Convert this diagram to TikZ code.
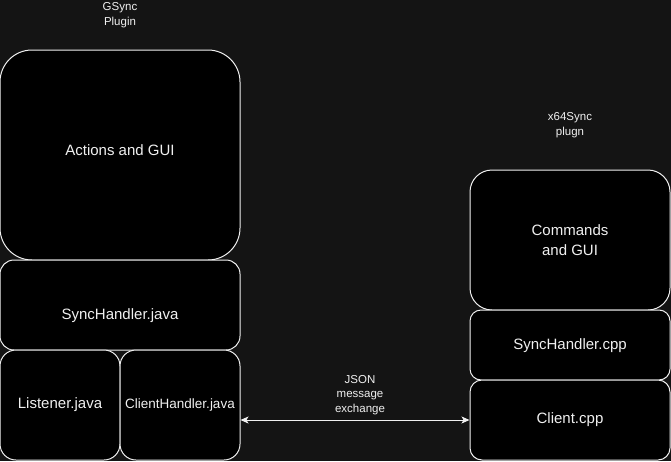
\documentclass[tikz,border=0pt]{standalone}
\usepackage{fontspec}
\setmainfont{Liberation Sans}
\usetikzlibrary{arrows.meta}
\definecolor{bg}{HTML}{141414}
\definecolor{fg}{HTML}{F0F0F0}
\begin{document}
\begin{tikzpicture}[x=1pt,y=-1pt,
  box/.style={draw=fg, fill=black, line width=1pt, inner sep=0pt},
  txt/.style={text=fg, align=center, font=\fontsize{15}{20}\selectfont},
  head/.style={text=fg, align=center, font=\fontsize{11.5}{15}\selectfont},
  arr/.style={draw=fg, line width=1pt, {Stealth[length=8pt,width=7pt,inset=2pt]}-{Stealth[length=8pt,width=7pt,inset=2pt]}}]
\fill[bg] (0,0) rectangle (671,461);
\useasboundingbox (0,0) rectangle (671,461);
% GSync side
\node[box, rounded corners=32, minimum width=240, minimum height=210] (actions) at (120,155) {};
\node[box, rounded corners=14, minimum width=240, minimum height=90] (synchj) at (120,305) {};
\node[box, rounded corners=16, minimum width=120, minimum height=110] (listener) at (60,405) {};
\node[box, rounded corners=16, minimum width=120, minimum height=110] (ch) at (180,405) {};
\node[txt] (actionst) at (120,150) {Actions and GUI};
\node[txt] (synchjt) at (120,316) {SyncHandler.java};
\node[txt] (listenert) at (listener) {Listener.java};
\node[txt, font=\fontsize{13.5}{16}\selectfont] (cht) at (ch) {ClientHandler.java};
\node[head] (gsync) at (120,15) {GSync\\Plugin};
% x64Sync side
\node[box, rounded corners=22, minimum width=200, minimum height=140] (cmds) at (570,240) {};
\node[box, rounded corners=11, minimum width=200, minimum height=70] (synchc) at (570,345) {};
\node[box, rounded corners=12, minimum width=200, minimum height=80] (client) at (570,420) {};
\node[txt] (cmdst) at (cmds) {Commands\\and GUI};
\node[txt] (synchct) at (570,346) {SyncHandler.cpp};
\node[txt] (clientt) at (client) {Client.cpp};
\node[head] (x64) at (570,125) {x64Sync\\plugn};
% link
\draw[arr] (ch.east |- client.west) -- (client.west);
\node[head, font=\fontsize{11.5}{14.5}\selectfont] (json) at (360,395) {JSON\\message\\exchange};
\end{tikzpicture}
\end{document}
